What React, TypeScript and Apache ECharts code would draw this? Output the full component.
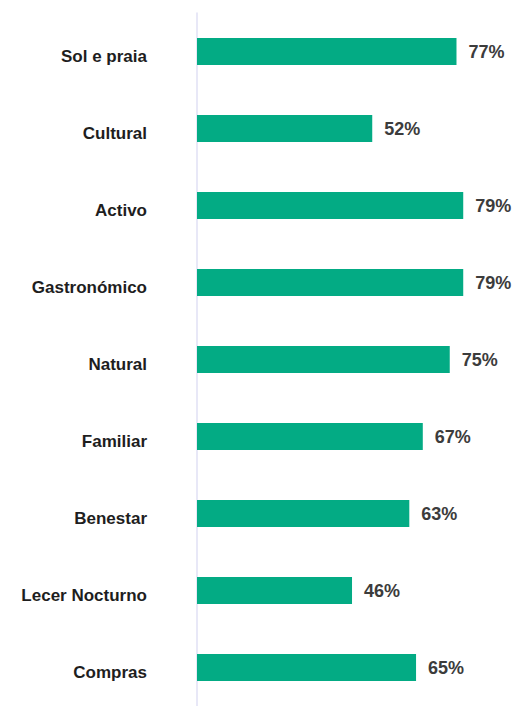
import React, { useEffect, useRef } from "react";
import * as echarts from "echarts";

const categories = [
  "Sol e praia",
  "Cultural",
  "Activo",
  "Gastronómico",
  "Natural",
  "Familiar",
  "Benestar",
  "Lecer Nocturno",
  "Compras",
];
const values = [77, 52, 79, 79, 75, 67, 63, 46, 65];

export default function App() {
  const ref = useRef<HTMLDivElement>(null);
  useEffect(() => {
    if (!ref.current) return;
    const chart = echarts.init(ref.current, undefined, { renderer: "svg" });
    chart.setOption({
      animation: false,
      backgroundColor: "#ffffff",
      grid: { left: 197, top: 13, width: 303.3, height: 702, containLabel: false },
      xAxis: {
        type: "value",
        min: 0,
        max: 90,
        show: false,
      },
      yAxis: {
        type: "category",
        data: categories,
        inverse: true,
        axisTick: { show: false },
        axisLine: { show: true, lineStyle: { color: "#E0E0F4", width: 1.5 } },
        axisLabel: {
          margin: 50,
          formatter: (v: string) => `{a|${v}}`,
          rich: {
            a: {
              fontFamily: "Liberation Sans, Arial, sans-serif",
              fontWeight: "bold",
              fontSize: 17,
              color: "#1e1e1e",
              padding: [10, 0, 0, 0],
            },
          },
        },
        splitLine: { show: false },
      },
      series: [
        {
          type: "bar",
          data: values,
          barWidth: 27,
          itemStyle: { color: "#03AB84" },
          label: {
            show: true,
            position: "right",
            distance: 12,
            formatter: "{c}%",
            fontFamily: "Liberation Sans, Arial, sans-serif",
            fontSize: 18,
            fontWeight: "bold",
            color: "#3c3c3c",
          },
        },
      ],
    });
    return () => chart.dispose();
  }, []);
  return (
    <div
      ref={ref}
      style={{ position: "absolute", left: 0, top: 0, width: 517, height: 706 }}
    />
  );
}
